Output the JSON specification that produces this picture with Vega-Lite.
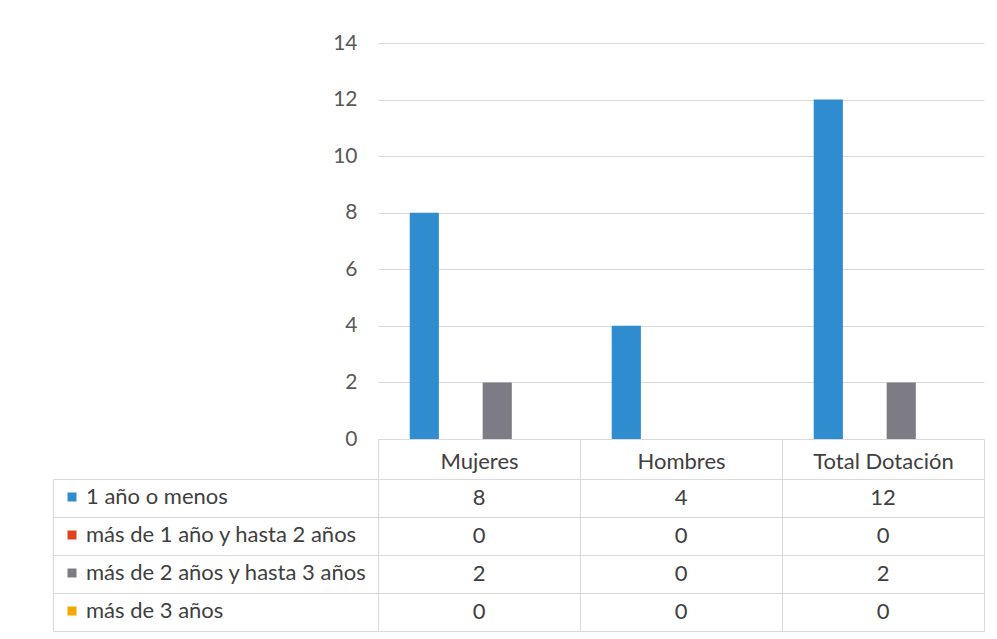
{
  "$schema": "https://vega.github.io/schema/vega-lite/v6.json",
  "background": "white",
  "padding": {"left": 52, "top": 32, "right": 14, "bottom": 9},
  "config": {"font": "Lato", "view": {"stroke": null}},
  "bounds": "flush",
  "spacing": 40,
  "data": {"values": [
    {"grupo": "Mujeres", "serie": "1 año o menos", "valor": 8},
    {"grupo": "Mujeres", "serie": "más de 1 año y hasta 2 años", "valor": 0},
    {"grupo": "Mujeres", "serie": "más de 2 años y hasta 3 años", "valor": 2},
    {"grupo": "Mujeres", "serie": "más de 3 años", "valor": 0},
    {"grupo": "Hombres", "serie": "1 año o menos", "valor": 4},
    {"grupo": "Hombres", "serie": "más de 1 año y hasta 2 años", "valor": 0},
    {"grupo": "Hombres", "serie": "más de 2 años y hasta 3 años", "valor": 0},
    {"grupo": "Hombres", "serie": "más de 3 años", "valor": 0},
    {"grupo": "Total Dotación", "serie": "1 año o menos", "valor": 12},
    {"grupo": "Total Dotación", "serie": "más de 1 año y hasta 2 años", "valor": 0},
    {"grupo": "Total Dotación", "serie": "más de 2 años y hasta 3 años", "valor": 2},
    {"grupo": "Total Dotación", "serie": "más de 3 años", "valor": 0}
  ]},
  "resolve": {"scale": {"color": "shared"}},
  "vconcat": [
    {
      "width": 606,
      "height": 396,
      "mark": {"type": "bar"},
      "encoding": {
        "x": {"field": "grupo", "type": "nominal", "sort": ["Mujeres", "Hombres", "Total Dotación"],
          "scale": {"paddingInner": 0, "paddingOuter": 0},
          "axis": {"title": null, "labelAngle": 0, "tickBand": "extent", "tickSize": 40, "tickColor": "#d9d9d9", "domainColor": "#d9d9d9", "labelPadding": -28, "labelFontSize": 22, "labelColor": "#404040"}},
        "xOffset": {"field": "serie", "type": "nominal", "sort": ["1 año o menos", "más de 1 año y hasta 2 años", "más de 2 años y hasta 3 años", "más de 3 años"],
          "scale": {"paddingInner": 0.2, "paddingOuter": 0.87}},
        "y": {"field": "valor", "type": "quantitative", "scale": {"domain": [0, 14]},
          "axis": {"title": null, "values": [0, 2, 4, 6, 8, 10, 12, 14], "domain": false, "ticks": false, "gridColor": "#d9d9d9", "labelPadding": 21, "labelFontSize": 21, "labelColor": "#595959"}},
        "color": {"field": "serie", "type": "nominal",
          "scale": {"domain": ["1 año o menos", "más de 1 año y hasta 2 años", "más de 2 años y hasta 3 años", "más de 3 años"], "range": ["#2f8dcf", "#e2431e", "#7d7c85", "#f2a900"]},
          "legend": {"title": null, "orient": "none", "legendX": -317, "legendY": 443, "symbolType": "square", "symbolSize": 81, "symbolStrokeWidth": 0, "labelFontSize": 22, "labelColor": "#404040", "labelLimit": 400, "rowPadding": 16, "labelOffset": 3}}
      }
    },
    {
      "width": 606,
      "height": 152,
      "mark": {"type": "text", "fontSize": 22, "color": "#404040"},
      "encoding": {
        "x": {"field": "grupo", "type": "nominal", "sort": ["Mujeres", "Hombres", "Total Dotación"],
          "scale": {"paddingInner": 0, "paddingOuter": 0},
          "axis": {"title": null, "labels": false, "ticks": false, "domain": false, "grid": true, "tickBand": "extent", "gridColor": "#d9d9d9"}},
        "y": {"field": "serie", "type": "nominal", "sort": ["1 año o menos", "más de 1 año y hasta 2 años", "más de 2 años y hasta 3 años", "más de 3 años"],
          "scale": {"paddingInner": 0, "paddingOuter": 0},
          "axis": {"title": null, "labels": false, "offset": 325, "tickSize": -325, "tickBand": "extent", "tickColor": "#d9d9d9", "domainColor": "#d9d9d9", "grid": true, "gridColor": "#d9d9d9"}},
        "text": {"field": "valor", "type": "quantitative"}
      }
    }
  ]
}
